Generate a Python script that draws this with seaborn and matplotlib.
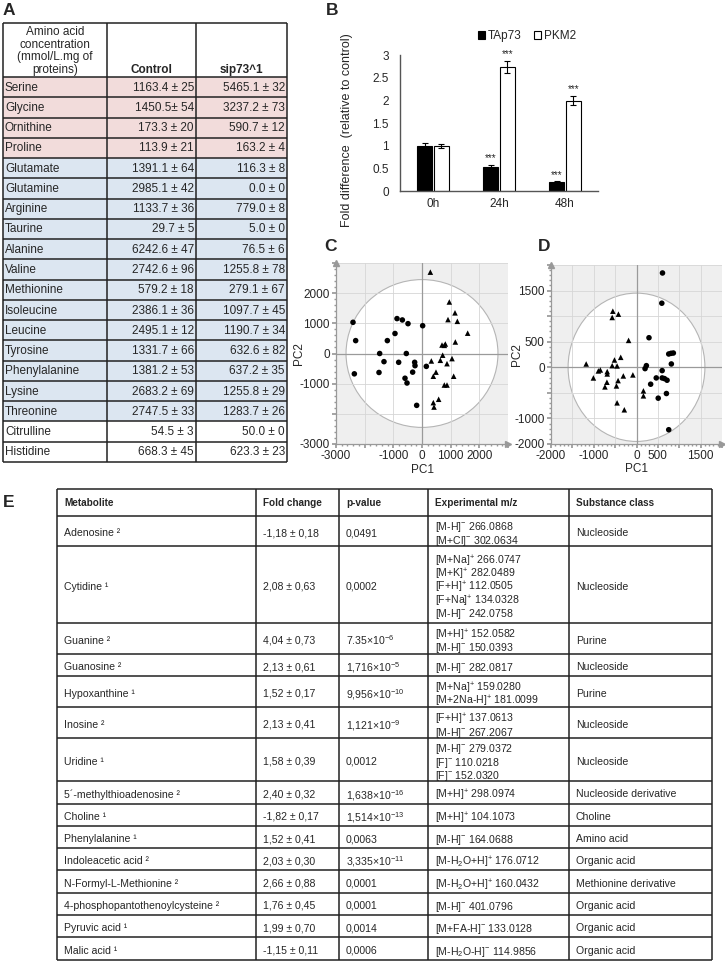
import matplotlib
matplotlib.use("Agg")
import matplotlib.pyplot as plt
import pandas as pd
import seaborn as sns
from matplotlib.patches import Ellipse, Rectangle
from matplotlib.ticker import AutoMinorLocator

sns.set_theme(style="white")
plt.rcParams["font.family"] = ["Liberation Sans", "DejaVu Sans"]
plt.rcParams["mathtext.fontset"] = "custom"
plt.rcParams["mathtext.rm"] = "Liberation Sans"
plt.rcParams["mathtext.it"] = "Liberation Sans:italic"
plt.rcParams["mathtext.bf"] = "Liberation Sans:bold"

W, H = 725, 969

# ---------------- data: panel A (amino acids)
amino_acids = ["Serine", "Glycine", "Ornithine", "Proline", "Glutamate", "Glutamine",
               "Arginine", "Taurine", "Alanine", "Valine", "Methionine", "Isoleucine",
               "Leucine", "Tyrosine", "Phenylalanine", "Lysine", "Threonine",
               "Citrulline", "Histidine"]
control_vals = ["1163.4 ± 25", "1450.5± 54", "173.3 ± 20", "113.9 ± 21", "1391.1 ± 64",
                "2985.1 ± 42", "1133.7 ± 36", "29.7 ± 5", "6242.6 ± 47", "2742.6 ± 96",
                "579.2 ± 18", "2386.1 ± 36", "2495.1 ± 12", "1331.7 ± 66", "1381.2 ± 53",
                "2683.2 ± 69", "2747.5 ± 33", "54.5 ± 3", "668.3 ± 45"]
sip_vals = ["5465.1 ± 32", "3237.2 ± 73", "590.7 ± 12", "163.2 ± 4", "116.3 ± 8",
            "0.0 ± 0", "779.0 ± 8", "5.0 ± 0", "76.5 ± 6", "1255.8 ± 78", "279.1 ± 67",
            "1097.7 ± 45", "1190.7 ± 34", "632.6 ± 82", "637.2 ± 35", "1255.8 ± 29",
            "1283.7 ± 26", "50.0 ± 0", "623.3 ± 23"]
aa_change = ["up"] * 4 + ["down"] * 13 + ["none"] * 2

# ---------------- data: panel B (qPCR)
times = ["0h", "24h", "48h"]
tap73 = [1.0, 0.54, 0.2]
tap73_err = [0.06, 0.03, 0.01]
pkm2 = [0.99, 2.73, 1.99]
pkm2_err = [0.05, 0.13, 0.10]
tap73_sig = ["", "***", "***"]
pkm2_sig = ["", "***", "***"]

# ---------------- data: panel C (PCA)
c_circle_pc1 = [-2407, -2314, -2360, -872, -686, -488, -942, -1209, -1477, -1326, -1500,
                -814, -547, -256, -244, -326, -593, -523, -186, 23, 151]
c_circle_pc2 = [1034, 427, -674, 1157, 1112, 989, 663, 427, 0, -270, -629,
                -292, 0, -292, -404, -618, -820, -978, -1719, 921, -427]
c_tri_pc1 = [291, 953, 1151, 907, 1233, 1593, 1163, 698, 814, 779, 721, 640, 1047, 872,
             326, 488, 395, 1105, 779, 872, 581, 395, 419]
c_tri_pc2 = [2697, 1708, 1348, 1124, 1067, 674, 382, 281, 315, 270, -56, -225, -169, -337,
             -247, -618, -753, -753, -1045, -1045, -1517, -1629, -1775]

# ---------------- data: panel D (PCA)
d_circle_pc1 = [608, 592, 292, 754, 808, 862, 815, 231, 200, 600, 462, 600, 654, 715,
                331, 700, 508, 754]
d_circle_pc2 = [1844, 1253, 578, 260, 273, 279, 65, 32, -26, -65, -208, -208, -221, -253,
                -331, -513, -604, -1221]
d_tri_pc1 = [-554, -423, -569, -185, -369, -515, -569, -454, -1177, -846, -892, -685,
             -685, -1008, -308, -85, -431, -692, -738, -469, 162, 162, -454, -285]
d_tri_pc2 = [1097, 1039, 974, 526, 195, 143, 32, 26, 65, -52, -71, -84, -130, -208, -169,
             -149, -260, -292, -383, -364, -461, -558, -695, -831]

# ---------------- data: panel E (metabolites)
e_header = ["Metabolite", "Fold change", "p-value", "Experimental m/z", "Substance class"]
metabolites = ["Adenosine ²", "Cytidine ¹", "Guanine ²", "Guanosine ²", "Hypoxanthine ¹",
               "Inosine ²", "Uridine ¹", "5´-methylthioadenosine ²", "Choline ¹",
               "Phenylalanine ¹", "Indoleacetic acid ²", "N-Formyl-L-Methionine ²",
               "4-phosphopantothenoylcysteine ²", "Pyruvic acid ¹", "Malic acid ¹"]
fold_changes = ["-1,18 ± 0,18", "2,08 ± 0,63", "4,04 ± 0,73", "2,13 ± 0,61", "1,52 ± 0,17",
                "2,13 ± 0,41", "1,58 ± 0,39", "2,40 ± 0,32", "-1,82 ± 0,17", "1,52 ± 0,41",
                "2,03 ± 0,30", "2,66 ± 0,88", "1,76 ± 0,45", "1,99 ± 0,70", "-1,15 ± 0,11"]
p_values = ["0,0491", "0,0002", r"7.35×10$^{-6}$", r"1,716×10$^{-5}$", r"9,956×10$^{-10}$",
            r"1,121×10$^{-9}$", "0,0012", r"1,638×10$^{-16}$", r"1,514×10$^{-13}$", "0,0063",
            r"3,335×10$^{-11}$", "0,0001", "0,0001", "0,0014", "0,0006"]
mz_values = [
    [r"[M-H]$^{-}$ 266.0868", r"[M+Cl]$^{-}$ 302.0634"],
    [r"[M+Na]$^{+}$ 266.0747", r"[M+K]$^{+}$ 282.0489", r"[F+H]$^{+}$ 112.0505",
     r"[F+Na]$^{+}$ 134.0328", r"[M-H]$^{-}$ 242.0758"],
    [r"[M+H]$^{+}$ 152.0582", r"[M-H]$^{-}$ 150.0393"],
    [r"[M-H]$^{-}$ 282.0817"],
    [r"[M+Na]$^{+}$ 159.0280", r"[M+2Na-H]$^{+}$ 181.0099"],
    [r"[F+H]$^{+}$ 137.0613", r"[M-H]$^{-}$ 267.2067"],
    [r"[M-H]$^{-}$ 279.0372", r"[F]$^{-}$ 110.0218", r"[F]$^{-}$ 152.0320"],
    [r"[M+H]$^{+}$ 298.0974"],
    [r"[M+H]$^{+}$ 104.1073"],
    [r"[M-H]$^{-}$ 164.0688"],
    [r"[M-H$_2$O+H]$^{+}$ 176.0712"],
    [r"[M-H$_2$O+H]$^{+}$ 160.0432"],
    [r"[M-H]$^{-}$ 401.0796"],
    [r"[M+FA-H]$^{-}$ 133.0128"],
    [r"[M-H$_2$O-H]$^{-}$ 114.9856"],
]
substance_class = ["Nucleoside", "Nucleoside", "Purine", "Nucleoside", "Purine",
                   "Nucleoside", "Nucleoside", "Nucleoside derivative", "Choline",
                   "Amino acid", "Organic acid", "Methionine derivative", "Organic acid",
                   "Organic acid", "Organic acid"]


def fig_rect(left, top, right, bottom):
    """Pixel box -> figure fraction rect."""
    return [left / W, 1 - bottom / H, (right - left) / W, (bottom - top) / H]


fig = plt.figure(figsize=(W / 100, H / 100), dpi=100)

# overlay axes in pixel units for tables and panel letters
lay = fig.add_axes([0, 0, 1, 1])
lay.set_xlim(0, W)
lay.set_ylim(H, 0)
lay.axis("off")

for letter, lx, ly in [("A", 3, 10), ("B", 326, 10), ("C", 324, 246), ("D", 538, 246), ("E", 3, 502)]:
    lay.text(lx, ly, letter, fontsize=12.5, fontweight="bold", va="center", ha="left")

# ---------------- panel A table
a_cols = [3, 107, 196, 287]
a_top, a_head, a_bottom = 23, 77, 462
a_row_h = (a_bottom - a_head) / len(amino_acids)
fills = {"up": "#f2dcdb", "down": "#dce6f1", "none": "white"}
for i, (name, cv, sv, grp) in enumerate(zip(amino_acids, control_vals, sip_vals, aa_change)):
    y0 = a_head + i * a_row_h
    yc = y0 + a_row_h / 2 + 0.5
    lay.add_patch(Rectangle((a_cols[0], y0), a_cols[-1] - a_cols[0], a_row_h,
                            facecolor=fills[grp], edgecolor="none"))
    lay.text(a_cols[0] + 2, yc, name, ha="left", va="center", fontsize=8.5)
    lay.text(a_cols[2] - 2, yc, cv, ha="right", va="center", fontsize=8.5)
    lay.text(a_cols[3] - 2, yc, sv, ha="right", va="center", fontsize=8.5)
lay.text((a_cols[0] + a_cols[1]) / 2, 51, "Amino acid\nconcentration\n(mmol/L.mg of\nproteins)",
         ha="center", va="center", fontsize=8.5, linespacing=1.08)
lay.text((a_cols[1] + a_cols[2]) / 2, 70, "Control", ha="center", va="center",
         fontsize=8.5, fontweight="bold")
lay.text((a_cols[2] + a_cols[3]) / 2, 70, "sip73^1", ha="center", va="center",
         fontsize=8.5, fontweight="bold")
a_lines = [a_top, a_head] + [a_head + (i + 1) * a_row_h for i in range(len(amino_acids))]
lay.hlines(a_lines, a_cols[0], a_cols[-1], color="#222222", lw=1.1)
lay.vlines(a_cols, a_top, a_bottom, color="#222222", lw=1.1)

# ---------------- panel E table
e_cols = [57, 256, 339, 428, 569, 712]
e_top, e_head_h = 489, 27
e_row_h = [30, 77, 31, 22.3, 31, 31, 43] + [22.3] * 8   # layout: pixel height of each body row
line_h = 13.4
e_fs = 7.6

for j, lab in enumerate(e_header):
    lay.text(e_cols[j] + 7, e_top + e_head_h / 2, lab, ha="left", va="center",
             fontsize=7.2, fontweight="bold")
y = e_top + e_head_h
e_lines = [e_top, y]
for name, fc, pv, mz, sc, h in zip(metabolites, fold_changes, p_values, mz_values,
                                   substance_class, e_row_h):
    yc = y + h / 2 + 1
    lay.text(e_cols[0] + 7, yc, name, ha="left", va="center_baseline", fontsize=e_fs)
    lay.text(e_cols[1] + 7, yc, fc, ha="left", va="center_baseline", fontsize=e_fs)
    lay.text(e_cols[2] + 7, yc, pv, ha="left", va="center_baseline", fontsize=e_fs)
    for k, line in enumerate(mz):
        lay.text(e_cols[3] + 7, yc + (k - (len(mz) - 1) / 2) * line_h, line,
                 ha="left", va="center_baseline", fontsize=e_fs)
    lay.text(e_cols[4] + 7, yc, sc, ha="left", va="center_baseline", fontsize=e_fs)
    y += h
    e_lines.append(y)
lay.hlines(e_lines, e_cols[0], e_cols[-1], color="#222222", lw=1.1)
lay.vlines(e_cols, e_top, e_lines[-1], color="#222222", lw=1.1)

# ---------------- panel B bars
axb = fig.add_axes(fig_rect(400, 55, 598, 191))
df_b = pd.DataFrame({"time": times * 2,
                     "gene": ["TAp73"] * len(times) + ["PKM2"] * len(times),
                     "fold": tap73 + pkm2})
sns.barplot(data=df_b, x="time", y="fold", hue="gene", palette=["black", "white"],
            edgecolor="black", linewidth=0.8, width=0.5, gap=0.1, errorbar=None,
            legend=False, ax=axb)
for cont, errs, sigs in zip(axb.containers, [tap73_err, pkm2_err], [tap73_sig, pkm2_sig]):
    for bar, err, sig in zip(cont, errs, sigs):
        bx = bar.get_x() + bar.get_width() / 2
        bh = bar.get_height()
        axb.errorbar(bx, bh, yerr=err, color="black", capsize=2.5, lw=0.8, capthick=0.8)
        if sig:
            axb.text(bx, bh + err + 0.04, sig, ha="center", va="bottom", fontsize=7)
axb.set_xlim(-0.5, 2.5)
axb.set_ylim(0, 3)
axb.set_yticks([0, 0.5, 1, 1.5, 2, 2.5, 3])
axb.set_yticklabels(["0", "0.5", "1", "1.5", "2", "2.5", "3"])
axb.tick_params(axis="both", length=0, labelsize=8.5)
axb.tick_params(axis="y", pad=8)
axb.tick_params(axis="x", pad=5)
axb.set_xlabel("")
axb.set_ylabel("Fold difference  (relative to control)", fontsize=9)
axb.yaxis.set_label_coords(-0.235, 0.45)
axb.patch.set_alpha(0)
for side in ["top", "right"]:
    axb.spines[side].set_visible(False)
for side in ["left", "bottom"]:
    axb.spines[side].set_color("#555555")
    axb.spines[side].set_linewidth(1.0)
handles = [Rectangle((0, 0), 1, 1, facecolor="black", edgecolor="black", lw=0.8),
           Rectangle((0, 0), 1, 1, facecolor="white", edgecolor="black", lw=0.8)]
fig.legend(handles, ["TAp73", "PKM2"], loc="center", bbox_to_anchor=(527 / W, 1 - 36 / H),
           ncol=2, frameon=False, fontsize=8.5, handlelength=0.6, handleheight=0.6,
           handletextpad=0.3, columnspacing=1.0)


# ---------------- panels C and D (PCA score plots)
def draw_pca(ax, pc1_o, pc2_o, pc1_t, pc2_t, xlim, ylim, xticks, xlabels, yticks, ylabels,
             ell_w, ell_h, ylab_x):
    df = pd.DataFrame({"pc1": pc1_o + pc1_t, "pc2": pc2_o + pc2_t,
                       "group": ["circle"] * len(pc1_o) + ["triangle"] * len(pc1_t)})
    ax.set_facecolor("#efefef")
    ax.add_patch(Ellipse((0, 0), ell_w, ell_h, facecolor="white", edgecolor="#b5b5b5",
                         lw=0.8, zorder=0.2))
    ax.axhline(0, color="#9a9a9a", lw=0.9, zorder=1)
    ax.axvline(0, color="#9a9a9a", lw=0.9, zorder=1)
    sns.scatterplot(data=df, x="pc1", y="pc2", style="group",
                    markers={"circle": "o", "triangle": "^"}, color="black", s=16,
                    linewidth=0, legend=False, ax=ax, zorder=3)
    ax.set_xlim(*xlim)
    ax.set_ylim(*ylim)
    ax.set_xticks(xticks)
    ax.set_xticklabels(xlabels)
    ax.set_yticks(yticks)
    ax.set_yticklabels(ylabels)
    ax.xaxis.set_minor_locator(AutoMinorLocator(5))
    ax.yaxis.set_minor_locator(AutoMinorLocator(5))
    ax.grid(True, which="major", color="#d6d6d6", lw=0.6)
    ax.set_axisbelow(True)
    ax.tick_params(which="major", direction="out", length=3, color="#999999",
                   labelsize=8.5, pad=1.5, left=True, bottom=True)
    ax.tick_params(which="minor", direction="out", length=1.5, color="#999999",
                   left=True, bottom=True)
    for side in ["top", "right"]:
        ax.spines[side].set_visible(False)
    for side in ["left", "bottom"]:
        ax.spines[side].set_color("#999999")
        ax.spines[side].set_linewidth(0.9)
    ax.plot([0], [1], marker="^", color="#999999", ms=4, transform=ax.transAxes, clip_on=False)
    ax.plot([1], [0], marker=">", color="#999999", ms=4, transform=ax.transAxes, clip_on=False)
    ax.set_xlabel("PC1", fontsize=8.5)
    ax.set_ylabel("PC2", fontsize=8.5)
    ax.xaxis.set_label_coords(0.5, -0.108)
    ax.yaxis.set_label_coords(ylab_x, 0.5)


axc = fig.add_axes(fig_rect(336, 263, 508, 444))
draw_pca(axc, c_circle_pc1, c_circle_pc2, c_tri_pc1, c_tri_pc2,
         (-3000, 3000), (-3000, 3000),
         [-3000, -2000, -1000, 0, 1000, 2000, 3000],
         ["-3000", "", "-1000", "0", "1000", "2000", ""],
         [-3000, -2000, -1000, 0, 1000, 2000, 3000],
         ["-3000", "", "-1000", "0", "1000", "2000", ""],
         5300, 4900, -0.18)

axd = fig.add_axes(fig_rect(551, 265, 722, 444))
draw_pca(axd, d_circle_pc1, d_circle_pc2, d_tri_pc1, d_tri_pc2,
         (-2000, 2000), (-1500, 2000),
         [-2000, -1500, -1000, -500, 0, 500, 1000, 1500, 2000],
         ["-2000", "", "-1000", "", "0", "500", "", "1500", ""],
         [-1500, -1000, -500, 0, 500, 1000, 1500, 2000],
         ["-2000", "-1000", "", "0", "500", "", "1500", ""],
         3200, 2900, -0.164)

fig.savefig("out.png", dpi=100)
